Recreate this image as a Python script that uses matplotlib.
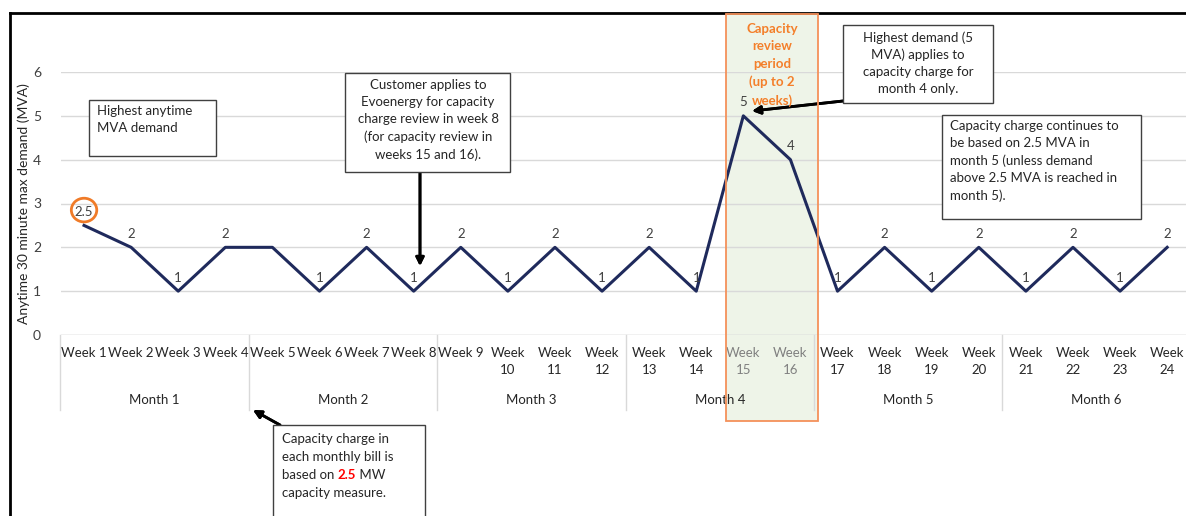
import matplotlib
matplotlib.use("Agg")
import matplotlib.pyplot as plt
from matplotlib.patches import Rectangle, Circle
from matplotlib.lines import Line2D

plt.rcParams['font.family'] = ['Lato', 'DejaVu Sans']

# data
weeks = ["Week %d" % i for i in range(1, 25)]
demand = [2.5, 2, 1, 2, 2, 1, 2, 1, 2, 1, 2, 1, 2, 1, 5, 4, 1, 2, 1, 2, 1, 2, 1, 2]
show_label = [True] * 24
show_label[4] = False  # week 5 has no label in original
months = ["Month 1", "Month 2", "Month 3", "Month 4", "Month 5", "Month 6"]
weeks_per_month = 4
review_weeks = [14, 15]

W, H = 1186, 516
fig = plt.figure(figsize=(W / 100, H / 100), dpi=100)

def fx(px):
    return px / W

def fy(py):
    return 1 - py / H

# capacity review shading (behind the axes)
fig.patches.append(Rectangle((fx(726), fy(421)), fx(818) - fx(726), fy(14) - fy(421),
                             transform=fig.transFigure, fc='#eef4e8', ec='none', zorder=-1))

ax = fig.add_axes([fx(60.5), fy(335), 1 - fx(60.5), fy(72) - fy(335)])
ax.patch.set_alpha(0)
x = list(range(len(weeks)))
ax.set_xlim(-0.5, 23.4)
ax.set_ylim(0, 6)
for s in ax.spines.values():
    s.set_visible(False)
ax.set_yticks(range(7))
ax.tick_params(axis='y', length=0, labelsize=10, labelcolor='#404040', pad=14)
ax.set_xticks([])
ax.grid(axis='y', color='#d9d9d9', lw=1)
ax.set_axisbelow(True)
ax.axhline(0, color='#d9d9d9', lw=1)
ax.set_ylabel("Anytime 30 minute max demand (MVA)", fontsize=10, color='#262626')
ax.yaxis.set_label_coords(-0.027, 0.5)

ax.plot(x, demand, color='#1f2a5c', lw=2.2, zorder=3)
for i, v in enumerate(demand):
    if show_label[i]:
        ax.text(i, v + 0.17, "%g" % v, ha='center', va='bottom', fontsize=9.5, color='#404040')

# category labels
for i, w in enumerate(weeks):
    lab = w if i < 9 else w.replace(" ", "\n")
    col = '#808080' if i in review_weeks else '#262626'
    ax.text(i, -0.27, lab, ha='center', va='top', fontsize=9.5, color=col,
            linespacing=1.55, clip_on=False)
for m, name in enumerate(months):
    x0 = m * weeks_per_month - 0.5
    ax.add_line(Line2D([x0, x0], [0, -1.72], color='#d9d9d9', lw=1, clip_on=False))
    ax.text(x0 + weeks_per_month / 2, -1.48, name, ha='center', va='center',
            fontsize=9.5, color='#262626', clip_on=False)

# circle around 2.5
ax.add_patch(Circle((0, 2.85), 0.27, transform=ax.transData, fill=False,
                    ec='#f07b28', lw=2, clip_on=False))

# capacity review outline and title
fig.patches.append(Rectangle((fx(726), fy(421)), fx(818) - fx(726), fy(14) - fy(421),
                             transform=fig.transFigure, fill=False, ec='#f4915a',
                             lw=1.3, zorder=6))
fig.text(fx(772), fy(23), "Capacity\nreview\nperiod\n(up to 2\nweeks)", ha='center', va='top',
         fontsize=9.5, color='#f47f2a', fontweight='bold', linespacing=1.55, zorder=8)

# border
fig.add_artist(Line2D([fx(10), 1], [fy(13), fy(13)], color='black', lw=2))
fig.add_artist(Line2D([fx(10), fx(10)], [fy(13), 0], color='black', lw=2))

def box(x0, y0, x1, y1):
    fig.patches.append(Rectangle((fx(x0), fy(y1)), fx(x1) - fx(x0), fy(y0) - fy(y1),
                                 transform=fig.transFigure, fc='white', ec='#404040',
                                 lw=1, zorder=7))

def arrow(xa, ya, xb, yb):
    fig.add_artist(plt.annotate("", xy=(fx(xb), fy(yb)), xytext=(fx(xa), fy(ya)),
                                xycoords='figure fraction', textcoords='figure fraction',
                                arrowprops=dict(arrowstyle='-|>', color='black', lw=2,
                                                mutation_scale=12, shrinkA=0, shrinkB=0)))

tkw = dict(fontsize=9.5, color='#262626', linespacing=1.5, zorder=8)

box(89, 100, 216, 156)
fig.text(fx(97), fy(105), "Highest anytime\nMVA demand", ha='left', va='top', **tkw)

box(345, 73, 510, 172)
fig.text(fx(428), fy(79), "Customer applies to\nEvoenergy for capacity\ncharge review in week 8\n(for capacity review in\nweeks 15 and 16).",
         ha='center', va='top', **tkw)
arrow(420, 172, 420, 266)

box(843, 25, 993, 103)
fig.text(fx(918), fy(31), "Highest demand (5\nMVA) applies to\ncapacity charge for\nmonth 4 only.",
         ha='center', va='top', **tkw)
arrow(843, 101, 752, 111)

box(942, 115, 1141, 219)
fig.text(fx(950), fy(120), "Capacity charge continues to\nbe based on 2.5 MVA in\nmonth 5 (unless demand\nabove 2.5 MVA is reached in\nmonth 5).",
         ha='left', va='top', **tkw)

box(273, 425, 425, 530)
ckw = dict(fontsize=9.5, color='#262626', zorder=8, ha='left', va='center')
fig.text(fx(282), fy(439), "Capacity charge in", **ckw)
fig.text(fx(282), fy(457), "each monthly bill is", **ckw)
fig.text(fx(282), fy(493), "capacity measure.", **ckw)
t1 = fig.text(fx(282), fy(475), "based on ", **ckw)
fig.canvas.draw()
r = fig.canvas.get_renderer()
e1 = t1.get_window_extent(r)
t2 = fig.text(e1.x1 / W, fy(475), "2.5", ha='left', va='center', fontsize=9.5,
              color='#ff0000', fontweight='bold', zorder=8)
e2 = t2.get_window_extent(r)
fig.text(e2.x1 / W, fy(475), " MW", **ckw)
arrow(280, 425, 253, 410)

fig.savefig("out.png", dpi=100)
